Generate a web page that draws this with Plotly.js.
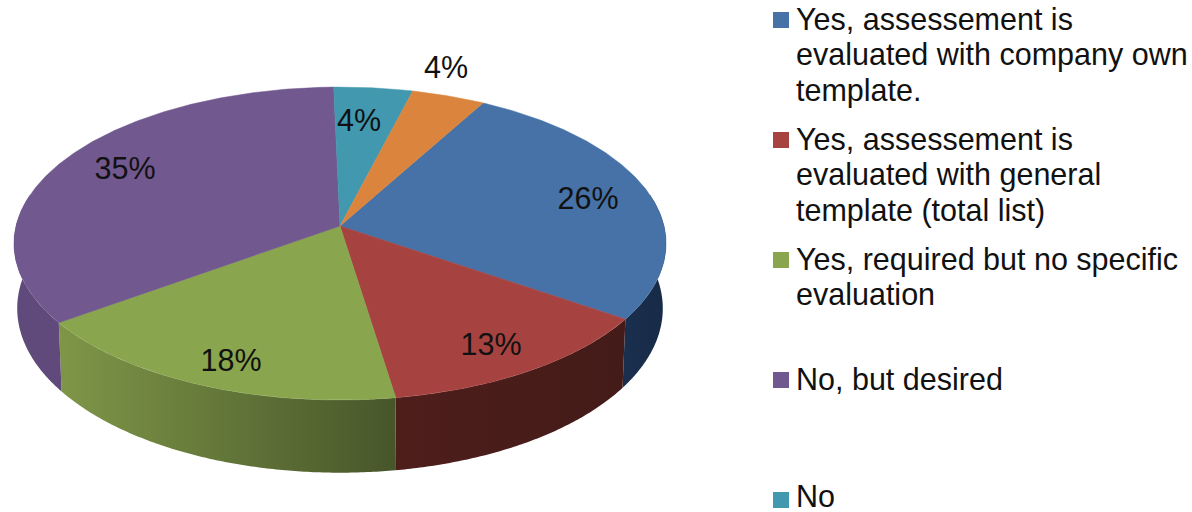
<!DOCTYPE html>
<html><head><meta charset="utf-8">
<script src="https://cdn.plot.ly/plotly-3.0.1.min.js"></script>
<style>html,body{margin:0;padding:0;background:#fff}#c{width:1192px;height:512px}</style>
</head><body><div id="c"></div>
<script>
const categories = ["Yes, assessement is<br>evaluated with company own<br>template.",
  "Yes, assessement is<br>evaluated with general<br>template (total list)",
  "Yes, required but no specific<br>evaluation",
  "No, but desired",
  "No",
  ""];
const values = [26.5, 13, 17.5, 34.6, 4.35, 4.05];
const percentLabels = ["26%","13%","18%","35%","4%","4%"];
const topColors = ["#4672A8","#A64340","#89A54E","#71588F","#4198AF","#DB843D"];
const wallLeft  = ["#1A2F4E","#4E1E1B","#7F9648","#5F4A7B","#2C6A7A","#8A5220"];
const wallRight = ["#172B47","#431B18","#47562A","#5F4A7B","#2C6A7A","#8A5220"];
const labelCentres = [[588,201],[491,347],[231,363],[125,171],[359,123],[446,70]];

// projection of the tilted disc onto the page
const cx=340, cy=226, kP=-0.112, ax=324, ay=154.5;
function topPt(t){const r=t*Math.PI/180, s=-Math.cos(r), d=1+kP*s;
  return [cx+ax*Math.sin(r)/d, cy+ay*s/d];}
function basePt(t){const p=topPt(t);
  return [cx+(p[0]-cx)*0.99, cy+(p[1]-cy)*1.05+64];}

const total=values.reduce((a,b)=>a+b,0);
let start=29;
const spans=values.map(v=>{const a=start,b=start+v/total*360;start=b;return [a,b];});

const walls=[], tops=[];
spans.forEach(([a,b],i)=>{
  // visible rim: front half only
  let lo=Math.max(a,78), hi=Math.min(b,282);
  if(hi>lo){
    const xs=[],ys=[];
    for(let t=lo;t<=hi;t+=0.5){const p=topPt(t);xs.push(p[0]);ys.push(p[1]);}
    const pe=topPt(hi);xs.push(pe[0]);ys.push(pe[1]);
    const qe=basePt(hi);xs.push(qe[0]);ys.push(qe[1]);
    for(let t=hi;t>=lo;t-=0.5){const p=basePt(t);xs.push(p[0]);ys.push(p[1]);}
    const ql=basePt(lo);xs.push(ql[0]);ys.push(ql[1]);
    walls.push({type:'scatter',mode:'none',x:xs,y:ys,fill:'toself',
      fillgradient:{type:'horizontal',colorscale:[[0,wallLeft[i]],[1,wallRight[i]]]},
      hoverinfo:'skip',showlegend:false});
  }
  const xs=[cx],ys=[cy];
  for(let t=a;t<b;t+=0.5){const p=topPt(t);xs.push(p[0]);ys.push(p[1]);}
  const pe=topPt(b);xs.push(pe[0],cx);ys.push(pe[1],cy);
  tops.push({type:'scatter',mode:'lines',x:xs,y:ys,fill:'toself',fillcolor:topColors[i],
    line:{width:0.5,color:topColors[i]},hoverinfo:'skip',showlegend:false,name:categories[i]});
});

// legend swatches, evenly spaced as in the picture
const legendIdx=[0,1,2,3,4];
const legendY=legendIdx.map(i=>20+i*120);
const swatches={type:'scatter',mode:'markers',x:legendIdx.map(()=>781),y:legendY,
  marker:{symbol:'square',size:16,color:legendIdx.map(i=>topColors[i])},hoverinfo:'skip',showlegend:false};

const font={family:'"Liberation Sans",Arial,sans-serif',color:'#111111',size:30.5};
const lineX=[],lineY=[],lineT=[];
legendIdx.forEach(i=>categories[i].split('<br>').forEach((t,j)=>{
  lineX.push(796);lineY.push(Math.min(legendY[i]+2+35.6*j,499));lineT.push(t);}));
const legendText={type:'scatter',mode:'text',x:lineX,y:lineY,text:lineT,textposition:'middle right',
  textfont:font,cliponaxis:false,hoverinfo:'skip',showlegend:false};
const pctText={type:'scatter',mode:'text',x:labelCentres.map(p=>p[0]),y:labelCentres.map(p=>p[1]),
  text:percentLabels,textposition:'middle center',textfont:font,cliponaxis:false,hoverinfo:'skip',showlegend:false};

Plotly.newPlot('c',[...walls,...tops,swatches,legendText,pctText],{
  width:1192,height:512,margin:{l:0,r:0,t:0,b:0},
  paper_bgcolor:'#fff',plot_bgcolor:'#fff',showlegend:false,
  xaxis:{range:[0,1192],visible:false,fixedrange:true},
  yaxis:{range:[512,0],visible:false,fixedrange:true}
},{displayModeBar:false,staticPlot:true});
</script></body></html>
